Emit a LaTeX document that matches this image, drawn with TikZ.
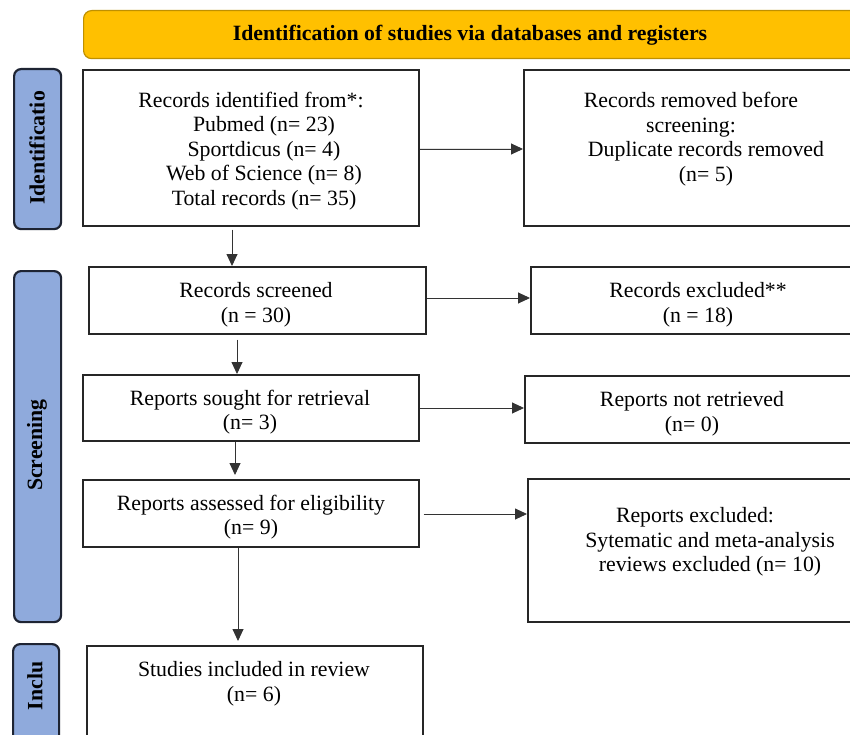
\documentclass[tikz,border=0pt]{standalone}
\usepackage{fontspec}
\setmainfont{Liberation Serif}
\usetikzlibrary{arrows.meta,calc}
\definecolor{sideblue}{HTML}{8FAADC}
\definecolor{sidedark}{HTML}{1E2433}
\definecolor{banneryellow}{HTML}{FFC000}
\definecolor{bannerdark}{HTML}{BF9000}
\newcommand{\txtfont}{\fontsize{21.8}{24.6}\selectfont}
\tikzset{
  box/.style={draw=black!85, line width=1.8pt, fill=white, inner sep=0pt, anchor=north west},
  sidebox/.style={draw=sidedark, fill=sideblue, line width=2.2pt, rounded corners=7pt, inner sep=0pt, anchor=north west},
  bannerbox/.style={draw=bannerdark, fill=banneryellow, line width=1.2pt, rounded corners=8pt, inner sep=0pt, anchor=north west},
  txt/.style={font=\txtfont, align=center, inner sep=0pt},
  sidetxt/.style={font=\txtfont\bfseries, rotate=90, inner sep=0pt},
  arr/.style={-{Triangle[length=12pt,width=11pt]}, line width=0.9pt, draw=black!80, fill=black!85},
}
\begin{document}
\begin{tikzpicture}[x=1pt,y=-1pt]
\useasboundingbox (0,0) rectangle (850,735);
\clip (0,0) rectangle (850,735);
\fill[white] (0,0) rectangle (850,735);

% banner
\node[bannerbox, minimum width=775pt, minimum height=48pt] (ban) at (83,10) {};
\node[font=\txtfont\bfseries, inner sep=0pt] (bant) at (470,35) {Identification of studies via databases and registers};

% side labels
\node[sidebox, minimum width=47pt, minimum height=160pt] (sid1) at (13,68) {};
\node[sidetxt] (sid1t) at (37,148) {Identificatio};
\node[sidebox, minimum width=47pt, minimum height=351pt] (sid2) at (13,270) {};
\node[sidetxt] (sid2t) at (37,445) {Screening};
\node[sidebox, minimum width=46pt, minimum height=120pt] (sid3) at (12,643) {};
\node[sidetxt] (sid3t) at (35,686) {Inclu};

% left column boxes
\node[box, minimum width=336pt, minimum height=156pt] (b1) at (82,69) {};
\node[box, minimum width=337pt, minimum height=67pt] (b2) at (88,266) {};
\node[box, minimum width=336pt, minimum height=66pt] (b3) at (82,374) {};
\node[box, minimum width=336pt, minimum height=67pt] (b4) at (82,479) {};
\node[box, minimum width=336pt, minimum height=120pt] (b5) at (86,645) {};

% right column boxes
\node[box, minimum width=340pt, minimum height=156pt] (r1) at (523,69) {};
\node[box, minimum width=330pt, minimum height=67pt] (r2) at (530,266) {};
\node[box, minimum width=330pt, minimum height=67pt] (r3) at (524,375) {};
\node[box, minimum width=330pt, minimum height=143pt] (r4) at (527,478) {};

% texts
\node[txt] (b1t) at (264,151) {\hspace*{-26pt}Records identified from*:\\Pubmed (n= 23)\\Sportdicus (n= 4)\\Web of Science (n= 8)\\Total records (n= 35)};
\node[txt] (b2t) at (256,305) {Records screened\\(n = 30)};
\node[txt] (b3t) at (250,412) {Reports sought for retrieval\\(n= 3)};
\node[txt] (b4t) at (251,517) {Reports assessed for eligibility\\(n= 9)};
\node[txt] (b5t) at (254,684) {Studies included in review\\(n= 6)};

\node[txt] (r1t) at (706,139) {\hspace*{-30pt}Records removed before\\\hspace*{-30pt}screening:\\Duplicate records removed\\(n= 5)};
\node[txt] (r2t) at (698,305) {Records excluded**\\(n = 18)};
\node[txt] (r3t) at (692,414) {Reports not retrieved\\(n= 0)};
\node[txt] (r4t) at (710,542) {\hspace*{-30pt}Reports excluded:\\Sytematic and meta-analysis\\reviews excluded (n= 10)};

% horizontal arrows
\draw[arr] (b1.east |- 0,149) -- (r1.west |- 0,149);
\draw[arr] (b2.east |- 0,298) -- (r2.west |- 0,298);
\draw[arr] (b3.east |- 0,408) -- (r3.west |- 0,408);
\draw[arr, shorten <=4pt] (b4.east |- 0,514) -- (r4.west |- 0,514);

% vertical arrows
\draw[arr, shorten <=3pt] (b1.south -| 232,0) -- (b2.north -| 232,0);
\draw[arr, shorten <=5pt] (b2.south -| 237,0) -- (b3.north -| 237,0);
\draw[arr, shorten >=4pt] (b3.south -| 235,0) -- (b4.north -| 235,0);
\draw[arr, shorten >=4pt] (b4.south -| 238,0) -- (b5.north -| 238,0);
\end{tikzpicture}
\end{document}
